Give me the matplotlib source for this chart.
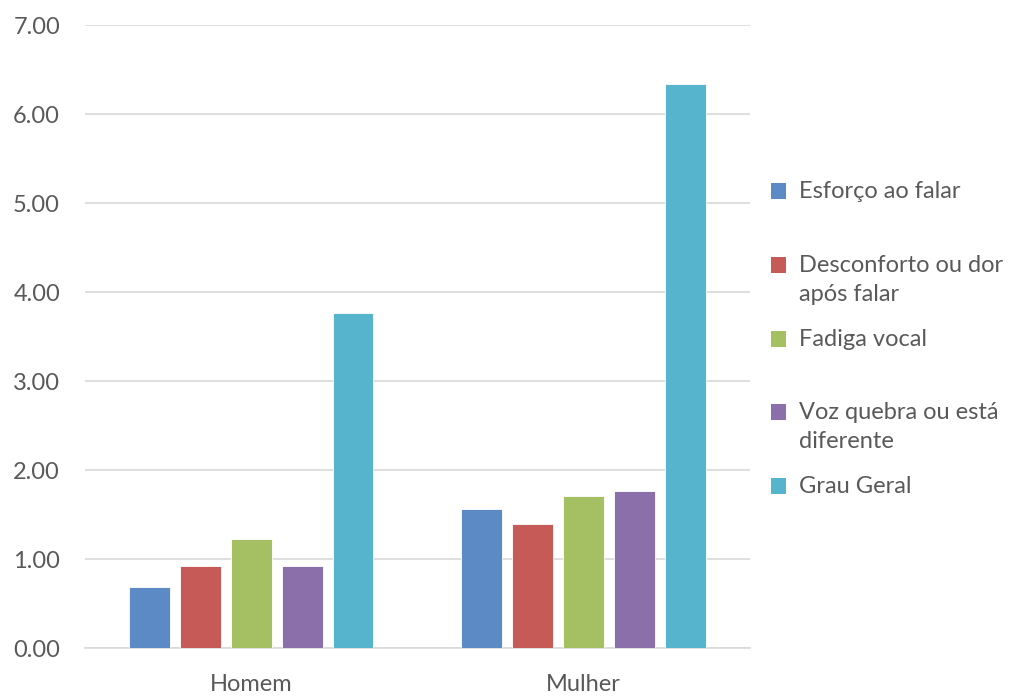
import matplotlib
matplotlib.use("Agg")
import numpy as np
import matplotlib.pyplot as plt
from matplotlib.patches import Rectangle

# data
categories = ["Homem", "Mulher"]
series_names = [
    "Esforço ao falar",
    "Desconforto ou dor\napós falar",
    "Fadiga vocal",
    "Voz quebra ou está\ndiferente",
    "Grau Geral",
]
esforco = [0.69, 1.56]
desconforto = [0.92, 1.39]
fadiga = [1.22, 1.71]
voz = [0.92, 1.76]
grau = [3.76, 6.34]
colors = ["#5B8AC4", "#C65A57", "#A5C063", "#8B6FAA", "#56B4CD"]

values = [esforco, desconforto, fadiga, voz, grau]
text_color = "#595959"
plt.rcParams["font.family"] = ["Lato", "DejaVu Sans"]

fig = plt.figure(figsize=(10.12, 6.97), dpi=100)
ax = fig.add_axes([0.084, 0.0703, 0.657, 0.8937])

x = np.arange(len(categories))
width = 0.123
step = 0.153
for i, (vals, col) in enumerate(zip(values, colors)):
    offs = (i - 2) * step
    ax.bar(x + offs, vals, width, color=col, edgecolor="white", linewidth=0.6, zorder=3)

ax.set_xlim(-0.5, 1.5)
ax.set_ylim(0, 7)
ax.set_yticks(np.arange(0, 8, 1))
ax.set_yticklabels([f"{v:.2f}" for v in range(8)])
ax.set_xticks(x)
ax.set_xticklabels(categories)
ax.tick_params(length=0, labelsize=17, labelcolor=text_color)
ax.tick_params(axis="y", pad=18)
ax.tick_params(axis="x", pad=19)
ax.grid(axis="y", color="#D9D9D9", linewidth=1.2, zorder=0)
for s in ["left", "right", "top"]:
    ax.spines[s].set_visible(False)
ax.spines["bottom"].set_color("#D9D9D9")
ax.spines["bottom"].set_linewidth(1.2)

# legend drawn by hand to keep the Excel spacing
leg_y = [191, 265, 339, 412, 486]
for name, col, yp in zip(series_names, colors, leg_y):
    fy = 1 - yp / 697
    fig.patches.append(Rectangle((771 / 1012, fy - 8 / 697), 15 / 1012, 16 / 697,
                                 transform=fig.transFigure, facecolor=col, edgecolor="none"))
    fig.text(799 / 1012, fy + 10 / 697, name, ha="left", va="top", fontsize=17,
             color=text_color, linespacing=1.5)

fig.savefig("out.png", dpi=100)
